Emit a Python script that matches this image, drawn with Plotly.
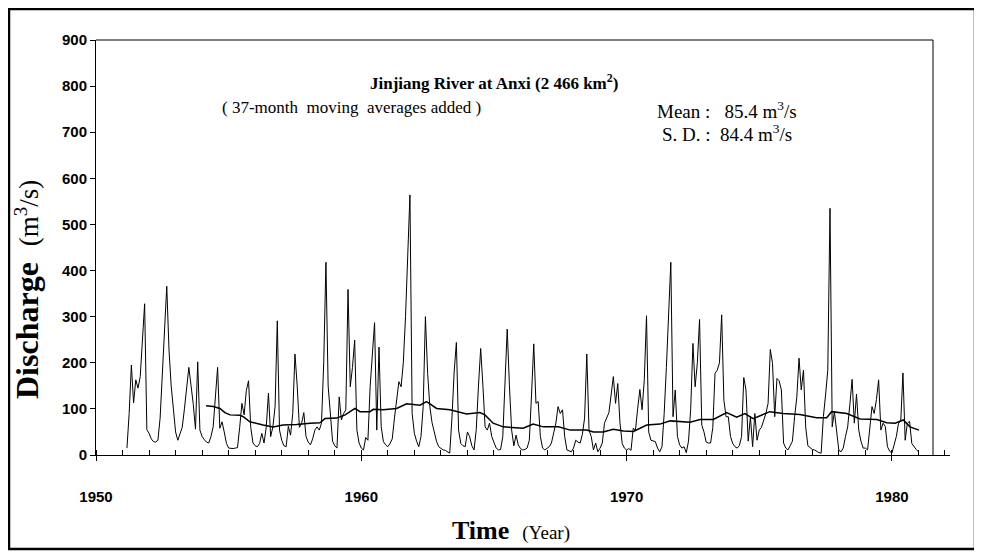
import plotly.graph_objects as go

# Monthly discharge (m3/s), each row = 12 consecutive months, first month plotted at year + 2/12
start_year = 1951
q_1951 = [15, 90, 195, 113, 163, 145, 170, 240, 328, 55, 47, 35]
q_1952 = [29, 28, 32, 80, 170, 270, 366, 230, 150, 100, 50, 32]
q_1953 = [45, 60, 100, 140, 190, 150, 110, 56, 202, 54, 40, 33]
q_1954 = [28, 26, 40, 61, 120, 190, 58, 72, 50, 25, 15, 14]
q_1955 = [14, 15, 16, 60, 112, 87, 140, 161, 60, 26, 20, 18]
q_1956 = [25, 47, 26, 60, 134, 40, 61, 105, 291, 54, 32, 20]
q_1957 = [18, 62, 43, 90, 219, 150, 60, 69, 92, 40, 28, 22]
q_1958 = [35, 54, 61, 54, 69, 200, 418, 150, 83, 30, 20, 15]
q_1959 = [126, 76, 90, 98, 359, 148, 190, 249, 54, 26, 15, 11]
q_1960 = [38, 32, 148, 230, 287, 54, 234, 61, 29, 22, 18, 25]
q_1961 = [35, 80, 115, 159, 148, 200, 300, 420, 564, 90, 47, 30]
q_1962 = [18, 40, 105, 300, 177, 105, 70, 50, 30, 18, 14, 11]
q_1963 = [10, 7, 4, 80, 180, 244, 54, 25, 20, 18, 50, 40]
q_1964 = [20, 11, 55, 150, 231, 151, 61, 54, 69, 40, 25, 15]
q_1965 = [11, 12, 40, 150, 273, 150, 54, 20, 43, 22, 14, 11]
q_1966 = [12, 15, 32, 130, 241, 112, 116, 40, 15, 11, 14, 18]
q_1967 = [26, 50, 69, 105, 90, 98, 40, 11, 9, 7, 15, 32]
q_1968 = [28, 26, 45, 80, 219, 54, 40, 11, 26, 7, 15, 26]
q_1969 = [69, 80, 92, 130, 170, 112, 155, 70, 25, 15, 11, 14]
q_1970 = [10, 58, 54, 100, 142, 98, 163, 302, 50, 32, 30, 29]
q_1971 = [15, 7, 18, 90, 190, 300, 418, 83, 141, 40, 22, 15]
q_1972 = [18, 5, 30, 100, 242, 148, 200, 294, 65, 50, 28, 26]
q_1973 = [26, 60, 177, 184, 200, 304, 119, 83, 83, 40, 25, 18]
q_1974 = [15, 20, 40, 168, 141, 30, 83, 18, 90, 32, 54, 60]
q_1975 = [75, 90, 112, 229, 199, 83, 166, 161, 141, 26, 15, 11]
q_1976 = [20, 30, 83, 126, 210, 141, 184, 61, 20, 15, 12, 11]
q_1977 = [8, 5, 4, 83, 130, 184, 535, 61, 94, 54, 10, 7]
q_1978 = [15, 40, 61, 110, 164, 69, 132, 54, 30, 15, 15, 11]
q_1979 = [60, 105, 90, 120, 163, 54, 69, 62, 18, 8, 4, 20]
q_1980 = [40, 69, 73, 178, 32, 69, 73, 25, 18, 12, 7]

# 37-month moving average
ma_time = [1954.15, 1954.42, 1954.67, 1954.86, 1955.05, 1955.43, 1955.55, 1955.8, 1956.3, 1956.68,
           1957.05, 1957.56, 1958.07, 1958.44, 1958.63, 1959.07, 1959.39, 1959.76, 1959.95, 1960.33,
           1960.45, 1960.82, 1961.33, 1961.71, 1962.21, 1962.46, 1962.84, 1963.34, 1963.97, 1964.47,
           1964.66, 1964.97, 1965.35, 1966.1, 1966.48, 1966.86, 1967.43, 1967.87, 1968.5, 1968.75,
           1969.12, 1969.5, 1969.88, 1970.26, 1970.76, 1971.26, 1971.64, 1972.39, 1972.77, 1973.27,
           1973.77, 1974.15, 1974.46, 1974.77, 1975.4, 1975.9, 1976.53, 1977.16, 1977.54, 1977.73,
           1978.3, 1978.8, 1979.43, 1979.8, 1980.12, 1980.43, 1980.68, 1981.02]
ma_value = [107, 105, 101, 92, 87, 86, 83, 72, 65, 61,
            65, 66, 69, 70, 79, 80, 87, 101, 94, 94,
            99, 98, 101, 111, 108, 116, 101, 98, 89, 92,
            87, 69, 61, 58, 67, 61, 61, 54, 54, 50,
            50, 56, 52, 51, 65, 67, 74, 71, 77, 77,
            92, 82, 90, 79, 94, 90, 88, 81, 81, 94,
            90, 78, 77, 70, 69, 76, 61, 54]

y_ticks = [0, 100, 200, 300, 400, 500, 600, 700, 800, 900]
x_ticks = [1950, 1960, 1970, 1980]

rows = [q_1951, q_1952, q_1953, q_1954, q_1955, q_1956, q_1957, q_1958, q_1959, q_1960,
        q_1961, q_1962, q_1963, q_1964, q_1965, q_1966, q_1967, q_1968, q_1969, q_1970,
        q_1971, q_1972, q_1973, q_1974, q_1975, q_1976, q_1977, q_1978, q_1979, q_1980]
discharge = [v for r in rows for v in r]
time = [start_year + (i + 2) / 12 for i in range(len(discharge))]

fig = go.Figure()
fig.add_trace(go.Scatter(x=time, y=discharge, mode="lines",
                         line=dict(color="black", width=1), hoverinfo="x+y"))
fig.add_trace(go.Scatter(x=ma_time, y=ma_value, mode="lines",
                         line=dict(color="black", width=1.5), hoverinfo="x+y"))

# page has an 8px body margin: figure coordinates = reference coordinates - 8
OFF = 8
FW, FH = 982 - OFF, 557 - OFF
L, R, T, B = 96, 950, 40, 455          # plot area in reference pixels
W, H = R - L, B - T
def px(x): return (x - L) / W
def py(y): return (B - y) / H

serif = "Liberation Serif"
ann = [
    dict(x=px(494), y=py(82), text="<b>Jinjiang River at Anxi (2 466 km<sup>2</sup>)</b>",
         font=dict(family=serif, size=17, color="black"), xanchor="center", yanchor="middle"),
    dict(x=px(351), y=py(108), text="( 37-month  moving  averages added )",
         font=dict(family=serif, size=17, color="black"), xanchor="center", yanchor="middle"),
    dict(x=px(655), y=py(110), text="Mean :&nbsp;&nbsp; 85.4 m<sup>3</sup>/s",
         font=dict(family=serif, size=19, color="black"), xanchor="left", yanchor="middle"),
    dict(x=px(660), y=py(133), text="S. D. :&nbsp; 84.4 m<sup>3</sup>/s",
         font=dict(family=serif, size=19, color="black"), xanchor="left", yanchor="middle"),
    dict(x=px(27), y=py(290), text="<b>Discharge</b>  <span style='font-size:27px'>(m<sup>3</sup>/s)</span>",
         textangle=-90, font=dict(family=serif, size=32, color="black"), xanchor="center", yanchor="middle"),
    dict(x=px(511), y=py(530), text="<b>Time</b>  <span style='font-size:19px'>(Year)</span>",
         font=dict(family=serif, size=26, color="black"), xanchor="center", yanchor="middle"),
]
for a in ann:
    a.update(xref="paper", yref="paper", showarrow=False)

shapes = [
    # outer frame
    dict(type="rect", xref="paper", yref="paper", x0=px(9), x1=px(975), y0=py(549), y1=py(9),
         line=dict(color="black", width=2.5)),
    # top / right border of plot box
    dict(type="line", xref="paper", yref="paper", x0=0, x1=px(933), y0=1, y1=1,
         line=dict(color="black", width=1)),
    dict(type="line", xref="paper", yref="paper", x0=px(933), x1=px(933), y0=0, y1=1,
         line=dict(color="black", width=1)),
]

fig.update_layout(
    width=FW, height=FH,
    margin=dict(l=L - OFF, r=FW - (R - OFF), t=T - OFF, b=FH - (B - OFF)),
    paper_bgcolor="white", plot_bgcolor="white",
    showlegend=False,
    annotations=ann, shapes=shapes,
    xaxis=dict(range=[1950, 1950 + W / 26.53], tickvals=x_ticks, ticktext=[str(v) for v in x_ticks],
               showgrid=False, zeroline=False, showline=True, linecolor="black", linewidth=1,
               ticks="outside", ticklen=5, tickcolor="black",
               minor=dict(dtick=1, ticks="inside", ticklen=5, tickcolor="black", showgrid=False),
               tickfont=dict(family="Liberation Sans", size=15, color="black", weight="bold"),
               ticklabelstandoff=23),
    yaxis=dict(range=[0, 900], tickvals=y_ticks, showgrid=False, zeroline=False,
               showline=True, linecolor="black", linewidth=1,
               ticks="outside", ticklen=5, tickcolor="black",
               tickfont=dict(family="Liberation Sans", size=15, color="black", weight="bold")),
)

fig.write_html("out.html")
